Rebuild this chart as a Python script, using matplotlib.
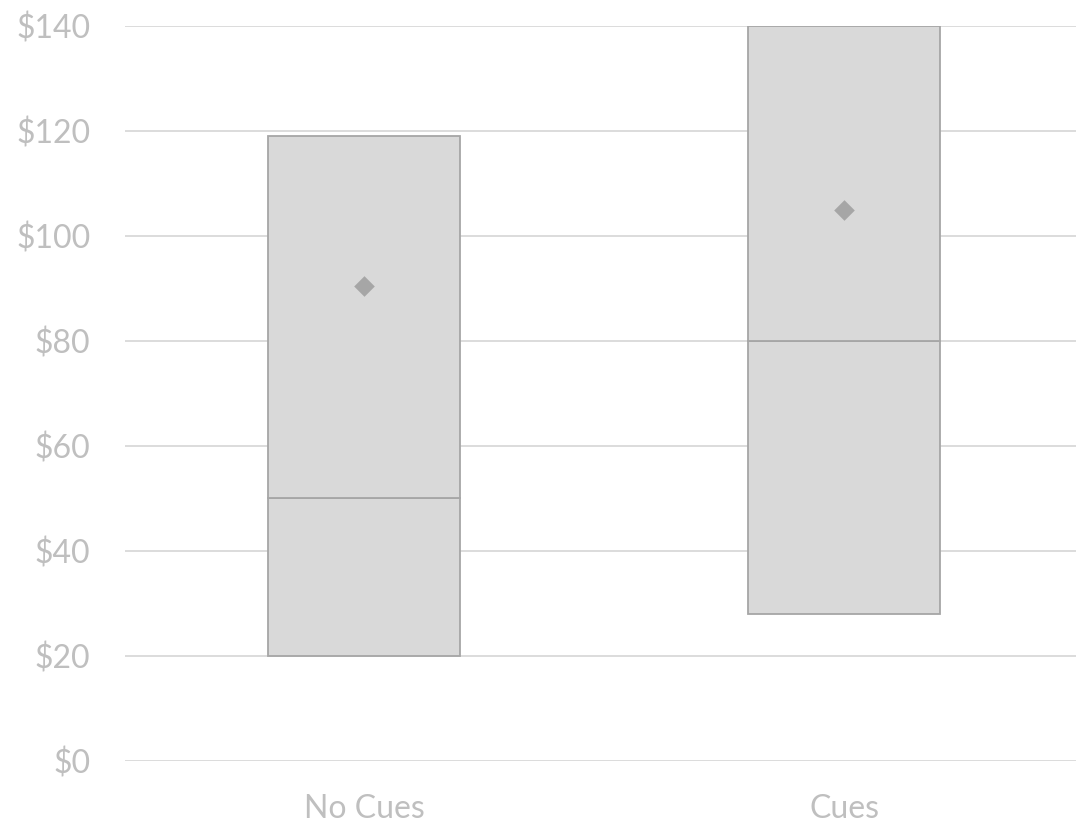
import matplotlib
matplotlib.use("Agg")
import matplotlib.pyplot as plt
from matplotlib.ticker import FuncFormatter

categories = ["No Cues", "Cues"]
q_low = [20, 28]
medians = [50, 80]
q_high = [119, 140]
means = [90.5, 105]
yticks = [0, 20, 40, 60, 80, 100, 120, 140]

plt.rcParams['font.family'] = ['Lato', 'DejaVu Sans']

fig = plt.figure(figsize=(10.76, 8.25), dpi=100)
ax = fig.add_axes([0.1162, 0.0776, 0.8838, 0.8909])

xpos = list(range(len(categories)))
width = 0.40
edge = "#A6A6A6"
fill = "#D9D9D9"
for x, lo, med, hi in zip(xpos, q_low, medians, q_high):
    ax.bar(x, med - lo, bottom=lo, width=width, color=fill, edgecolor=edge, linewidth=1.3, zorder=3)
    ax.bar(x, hi - med, bottom=med, width=width, color=fill, edgecolor=edge, linewidth=1.3, zorder=3)
ax.scatter(xpos, means, marker="D", s=110, color="#A6A6A6", zorder=4, linewidths=0)

ax.set_xlim(-0.498, 1.483)
ax.set_ylim(0, 140)
ax.set_yticks(yticks)
ax.yaxis.set_major_formatter(FuncFormatter(lambda v, p: f"${int(v)}"))
ax.set_xticks(xpos)
ax.set_xticklabels(categories)
ax.grid(axis="y", color="#D9D9D9", linewidth=1.3, zorder=0)
ax.set_axisbelow(True)
for s in ax.spines.values():
    s.set_visible(False)
ax.tick_params(axis="both", length=0, labelsize=23, colors="#BFBFBF")
ax.tick_params(axis="y", pad=25)
ax.tick_params(axis="x", pad=24)

fig.savefig("out.png", dpi=100)
